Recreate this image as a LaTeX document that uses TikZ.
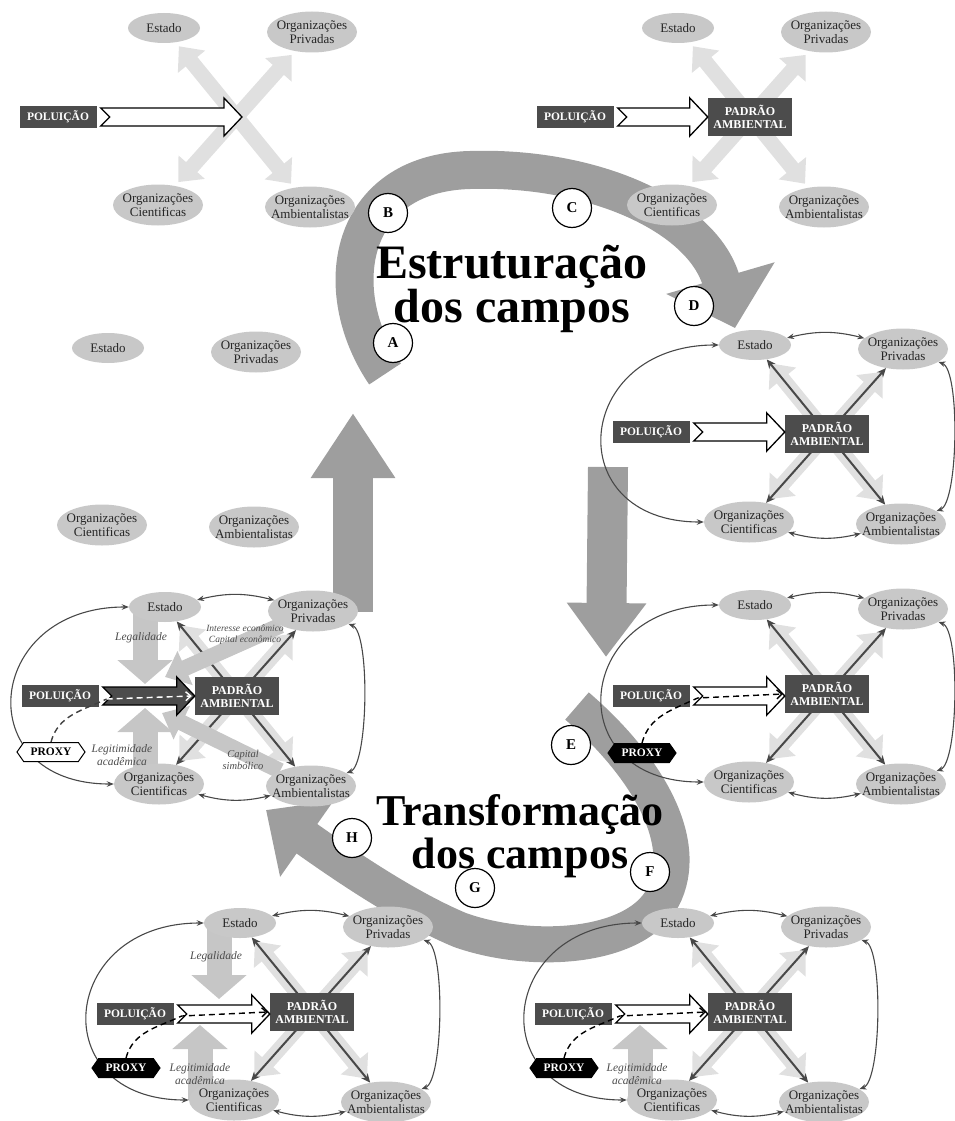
\documentclass[tikz,border=0pt]{standalone}
\usepackage{fontspec}
\setmainfont{Liberation Serif}
\usetikzlibrary{arrows.meta,calc,shapes.geometric,shapes.symbols}

\definecolor{actorgray}{RGB}{200,200,200}
\definecolor{xpale}{RGB}{224,224,224}
\definecolor{boxgray}{RGB}{76,76,76}
\definecolor{linkgray}{RGB}{72,72,72}
\definecolor{flowgray}{RGB}{158,158,158}
\definecolor{bandgray}{RGB}{198,198,198}

\pgfdeclarelayer{flows}
\pgfdeclarelayer{xarrows}
\pgfsetlayers{flows,xarrows,main}

% the four actors around a panel centre
\newcommand{\actors}[3]{%
  \node[actor] (#1e) at (#2-72,#3-89) {Estado};
  \node[actor, pair] (#1p) at (#2+76,#3-85) {Organizações\\Privadas};
  \node[actor, pair] (#1c) at (#2-78,#3+88) {Organizações\\Cientificas};
  \node[actor, pair] (#1a) at (#2+74,#3+90) {Organizações\\Ambientalistas};
}
% light and dark crossing arrows
\newcommand{\crosspale}[1]{%
  \begin{pgfonlayer}{xarrows}
    \draw[palex] (#1e) -- (#1a);
    \draw[palex] (#1p) -- (#1c);
  \end{pgfonlayer}
}
\newcommand{\crossdark}[1]{%
  \begin{pgfonlayer}{xarrows}
    \draw[darkx] (#1e) -- (#1a);
    \draw[darkx] (#1p) -- (#1c);
  \end{pgfonlayer}
}
% thin arrows between the actors
\newcommand{\ringlinks}[1]{%
  \draw[link] (#1e) to[bend left=14] (#1p);
  \draw[link] (#1c) to[bend right=14] (#1a);
  \draw[link] (#1p) to[out=-20,in=20,looseness=0.4] (#1a);
  \draw[link] (#1e.west) to[out=180,in=180,looseness=2.1] (#1c.west);
}
% notched arrow leaving the pollution box
\newcommand{\polarrow}[3]{%
  \draw[#1] let \p1=(#2.east), \p2=(#3) in
    (\x1+4pt,\y1+9pt) -- (\x2-18pt,\y1+9pt) -- (\x2-18pt,\y1+19pt) -- (\x2,\y1)
    -- (\x2-18pt,\y1-19pt) -- (\x2-18pt,\y1-9pt) -- (\x1+4pt,\y1-9pt)
    -- (\x1+13pt,\y1) -- cycle;
}

\begin{document}
\begin{tikzpicture}[x=1pt, y=-1pt,
  actor/.style={ellipse, fill=actorgray, text=black!85, align=center,
    inner xsep=-8pt, inner ysep=-2pt, minimum width=72pt, minimum height=30pt,
    font=\fontsize{13}{13.5}\selectfont},
  pair/.style={minimum width=90pt, minimum height=41pt},
  palex/.style={draw=xpale, line width=15pt, shorten <=5pt, shorten >=5pt,
    {Triangle[length=20pt,width=34pt]}-{Triangle[length=20pt,width=34pt]}},
  darkx/.style={draw=linkgray, line width=2pt,
    {Stealth[length=9pt,width=8pt]}-{Stealth[length=9pt,width=8pt]}},
  link/.style={draw=linkgray, line width=1.1pt,
    {Stealth[length=7pt,width=5.5pt]}-{Stealth[length=7pt,width=5.5pt]}},
  flow/.style={draw=flowgray, line width=38pt},
  wideband/.style={draw=bandgray, line width=25pt, -{Triangle[length=24pt,width=54pt]}},
  slimband/.style={draw=bandgray, line width=16pt, -{Triangle[length=22pt,width=36pt]}},
  polbox/.style={fill=boxgray, text=white, inner sep=2pt, minimum width=77pt,
    minimum height=22pt, font=\bfseries\fontsize{11.5}{12.5}\selectfont},
  padbox/.style={polbox, align=center, minimum width=84pt, minimum height=38pt,
    font=\bfseries\fontsize{12}{13}\selectfont},
  polwhite/.style={fill=white, draw=black, line width=1.3pt},
  poldark/.style={fill=boxgray, draw=black, line width=1.3pt},
  proxy/.style={signal, signal to=west and east, signal pointer angle=110,
    draw=black, line width=1pt, inner sep=1pt, minimum width=68pt, minimum height=19pt,
    font=\bfseries\fontsize{11.5}{12}\selectfont},
  proxyline/.style={line width=1.4pt, dash pattern=on 6pt off 4pt},
  cue/.style={text=black!70, align=center, font=\itshape\fontsize{11.5}{12.5}\selectfont},
  smallcue/.style={cue, font=\itshape\fontsize{9.5}{11}\selectfont},
  letter/.style={circle, draw=black, line width=1.2pt, fill=white, minimum size=39pt,
    inner sep=0pt, font=\bfseries\fontsize{15}{15}\selectfont},
  heading/.style={align=center, font=\bfseries\fontsize{48}{43}\selectfont}]

\useasboundingbox (0,0) rectangle (954,1121);

% big grey flows
\coordinate (s0) at (385,374);
\coordinate (s1) at (470,170);
\coordinate (s2) at (735,328);
\coordinate (u0) at (353,612);
\coordinate (u1) at (353,413);
\coordinate (d0) at (608,467);
\coordinate (d1) at (606,657);
\coordinate (t0) at (577,706);
\coordinate (t1) at (665,893);
\coordinate (t2) at (460,930);
\coordinate (t3) at (266,810);
\begin{pgfonlayer}{flows}
  \draw[flow, -{Triangle[length=52pt,width=110pt]}]
    (s0) .. controls (328,290) and (348,173) .. (s1)
         .. controls (592,166) and (702,215) .. (s2);
  \draw[flow, line width=40pt, -{Triangle[length=65pt,width=80pt]}] (u0) -- (u1);
  \draw[flow, line width=40pt, -{Triangle[length=54pt,width=76pt]}] (d0) -- (d1);
  \draw[flow, line width=36pt, -{Triangle[length=50pt,width=90pt]}]
    (t0) .. controls (640,760) and (690,835) .. (t1)
         .. controls (640,950) and (530,955) .. (t2)
         .. controls (400,905) and (330,855) .. (t3);
\end{pgfonlayer}

% Panel 1: pollution alone
\actors{p1}{236}{117}
\crosspale{p1}
\coordinate (p1x) at (242,117);
\node[polbox] (p1pol) at (58,117) {POLUIÇÃO};
\polarrow{polwhite}{p1pol}{p1x}

% Panel 2: standard appears
\actors{p2}{750}{117}
\crosspale{p2}
\node[polbox] (p2pol) at (575,117) {POLUIÇÃO};
\node[padbox] (p2pad) at (750,117) {PADRÃO\\AMBIENTAL};
\polarrow{polwhite}{p2pol}{p2pad.west}

% Panel 3: actors only
\actors{p3}{180}{437}

% Panel 4: structured field
\actors{p4}{827}{434}
\crosspale{p4}
\crossdark{p4}
\ringlinks{p4}
\node[polbox] (p4pol) at (651,432) {POLUIÇÃO};
\node[padbox] (p4pad) at (827,434) {PADRÃO\\AMBIENTAL};
\polarrow{polwhite}{p4pol}{p4pad.west}

% Panel 5: capitals and proxy
\actors{p5}{237}{696}
\crosspale{p5}
\crossdark{p5}
\coordinate (p5lg) at (145,684);
\coordinate (p5lt) at (145,708);
\coordinate (p5ec) at (165,677);
\coordinate (p5sb) at (162,713);
\begin{pgfonlayer}{xarrows}
  \draw[wideband] (p5lg |- p5e.center) -- (p5lg);
  \draw[wideband] (p5lt |- p5c.center) -- (p5lt);
  \draw[slimband] (p5p) -- (p5ec);
  \draw[slimband] (p5a) -- (p5sb);
\end{pgfonlayer}
\ringlinks{p5}
\node[polbox] (p5pol) at (60,696) {POLUIÇÃO};
\node[padbox] (p5pad) at (237,696) {PADRÃO\\AMBIENTAL};
\polarrow{poldark}{p5pol}{p5pad.west}
\node[proxy, fill=white] (p5prx) at (51,752) {PROXY};
\draw[proxyline, draw=black!75] (p5prx.north) to[out=75,in=205] ($(p5pol.east)+(8,3)$) coordinate (p5tail);
\draw[proxyline, draw=white, -{Straight Barb[length=5pt,width=9pt]}] (p5tail) -- ([xshift=-3pt]p5pad.west);
\node[cue] (p5lgl) at (141,638) {Legalidade};
\node[cue] (p5lgt) at (122,755) {Legitimidade\\acadêmica};
\node[smallcue] (p5eco) at (245,635) {Interesse econômico\\Capital econômico};
\node[cue, font=\itshape\fontsize{10.5}{11.5}\selectfont] (p5sim) at (243,760) {Capital\\simbólico};

% Panel 6: proxy enters
\actors{p6}{827}{694}
\crosspale{p6}
\crossdark{p6}
\ringlinks{p6}
\node[polbox] (p6pol) at (651,696) {POLUIÇÃO};
\node[padbox] (p6pad) at (827,694) {PADRÃO\\AMBIENTAL};
\polarrow{polwhite}{p6pol}{p6pad.west}
\node[proxy, fill=black, text=white] (p6prx) at (642,753) {PROXY};
\draw[proxyline, -{Straight Barb[length=5pt,width=9pt]}] (p6prx.north) to[out=75,in=205] ($(p6pol.east)+(8,2)$) -- ([xshift=-2pt]p6pad.west);

% Panel 7: legality and legitimacy
\actors{p7}{312}{1012}
\crosspale{p7}
\crossdark{p7}
\coordinate (p7lg) at (219,999);
\coordinate (p7lt) at (200,1025);
\begin{pgfonlayer}{xarrows}
  \draw[wideband] (p7lg |- p7e.center) -- (p7lg);
  \draw[wideband] (p7lt |- p7c.center) -- (p7lt);
\end{pgfonlayer}
\ringlinks{p7}
\node[polbox] (p7pol) at (135,1014) {POLUIÇÃO};
\node[padbox] (p7pad) at (312,1012) {PADRÃO\\AMBIENTAL};
\polarrow{polwhite}{p7pol}{p7pad.west}
\node[proxy, fill=black, text=white] (p7prx) at (126,1068) {PROXY};
\draw[proxyline, -{Straight Barb[length=5pt,width=9pt]}] (p7prx.north) to[out=75,in=205] ($(p7pol.east)+(8,2)$) -- ([xshift=-2pt]p7pad.west);
\node[cue] (p7lgl) at (216,957) {Legalidade};
\node[cue] (p7lgt) at (200,1074) {Legitimidade\\acadêmica};

% Panel 8: legitimacy only
\actors{p8}{750}{1012}
\crosspale{p8}
\crossdark{p8}
\coordinate (p8lt) at (640,1025);
\begin{pgfonlayer}{xarrows}
  \draw[wideband] (p8lt |- p8c.center) -- (p8lt);
\end{pgfonlayer}
\ringlinks{p8}
\node[polbox] (p8pol) at (573,1014) {POLUIÇÃO};
\node[padbox] (p8pad) at (750,1012) {PADRÃO\\AMBIENTAL};
\polarrow{polwhite}{p8pol}{p8pad.west}
\node[proxy, fill=black, text=white] (p8prx) at (564,1068) {PROXY};
\draw[proxyline, -{Straight Barb[length=5pt,width=9pt]}] (p8prx.north) to[out=75,in=205] ($(p8pol.east)+(8,2)$) -- ([xshift=-2pt]p8pad.west);
\node[cue] (p8lgt) at (637,1074) {Legitimidade\\acadêmica};

% step letters
\node[letter] (la) at (393,343) {A};
\node[letter] (lb) at (388,213) {B};
\node[letter] (lc) at (572,208) {C};
\node[letter] (ld) at (694,306) {D};
\node[letter] (le) at (571,745) {E};
\node[letter] (lf) at (650,872) {F};
\node[letter] (lg) at (475,888) {G};
\node[letter] (lh) at (352,838) {H};

% headings
\node[heading] (hs) at (512,289) {Estruturação\\dos campos};
\node[heading, font=\bfseries\fontsize{44}{43}\selectfont] (ht) at (520,836) {Transformação\\dos campos};
\end{tikzpicture}
\end{document}
